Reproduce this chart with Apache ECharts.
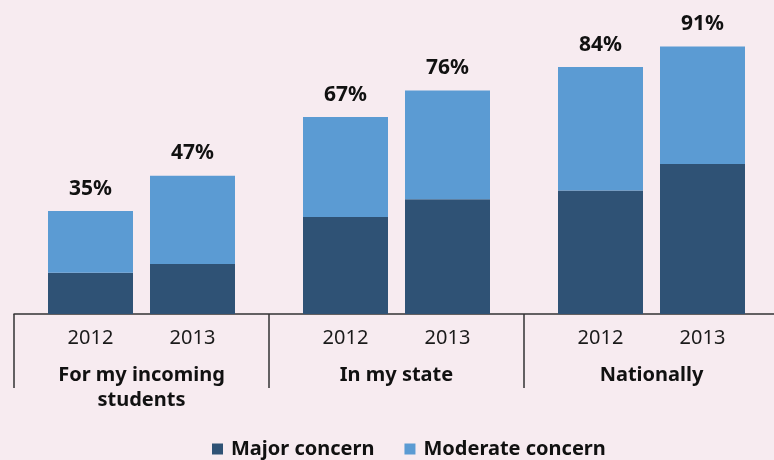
<!DOCTYPE html>
<html>
<head>
<meta charset="utf-8">
<script src="https://cdn.jsdelivr.net/npm/echarts@6/dist/echarts.min.js"></script>
<style>
html,body{margin:0;padding:0;background:#f7ebf0;}
#main{width:774px;height:460px;}
</style>
</head>
<body>
<div id="main"></div>
<script>
var categories = ['For my incoming\nstudents', 'In my state', 'Nationally'];
var years = ['2012', '2013'];
var major2012 = [14, 33, 42];
var moderate2012 = [21, 34, 42];
var major2013 = [17, 39, 51];
var moderate2013 = [30, 37, 40];
var total2012 = [35, 67, 84];
var total2013 = [47, 76, 91];

var FONT = 'Noto Sans';
var DARK = '#2f5275';
var LIGHT = '#5b9bd3';

function yearLabel(y) {
  return {
    show: true, position: 'bottom', distance: 14,
    formatter: function () { return y; },
    color: '#1a1a1a', fontFamily: FONT, fontSize: 20, lineHeight: 20
  };
}
function totalLabel(arr) {
  return {
    show: true, position: 'top', distance: 12,
    formatter: function (p) { return arr[p.dataIndex] + '%'; },
    color: '#111', fontFamily: FONT, fontSize: 21, fontWeight: 'bold'
  };
}

var chart = echarts.init(document.getElementById('main'), null, {renderer: 'canvas'});
chart.setOption({
  backgroundColor: '#f7ebf0',
  animation: false,
  grid: {left: 14, right: -5, top: 20, bottom: 146, containLabel: false, outerBoundsMode: 'none'},
  legend: {
    top: 439, left: 212, padding: 0,
    icon: 'rect', itemWidth: 11, itemHeight: 11, itemGap: 30,
    data: ['Major concern', 'Moderate concern'],
    textStyle: {fontFamily: FONT, fontSize: 20, fontWeight: 'bold', color: '#111', padding: [0, 0, 0, 3]}
  },
  xAxis: {
    type: 'category',
    data: categories,
    axisLine: {show: true, lineStyle: {color: '#333', width: 1.5}},
    axisTick: {show: true, length: 74, interval: 0, lineStyle: {color: '#333', width: 1.5}},
    axisLabel: {
      interval: 0, margin: 49,
      fontFamily: FONT, fontSize: 20, fontWeight: 'bold', color: '#111', lineHeight: 25
    }
  },
  yAxis: {type: 'value', min: 0, max: 100, show: false, splitLine: {show: false}},
  series: [
    {name: 'Major concern', type: 'bar', stack: 'y2012', data: major2012,
     barWidth: 85, barGap: '20%', itemStyle: {color: DARK}, label: yearLabel(years[0])},
    {name: 'Moderate concern', type: 'bar', stack: 'y2012', data: moderate2012,
     barWidth: 85, barGap: '20%', itemStyle: {color: LIGHT}, label: totalLabel(total2012)},
    {name: 'Major concern', type: 'bar', stack: 'y2013', data: major2013,
     barWidth: 85, barGap: '20%', itemStyle: {color: DARK}, label: yearLabel(years[1])},
    {name: 'Moderate concern', type: 'bar', stack: 'y2013', data: moderate2013,
     barWidth: 85, barGap: '20%', itemStyle: {color: LIGHT}, label: totalLabel(total2013)}
  ]
});
</script>
</body>
</html>
